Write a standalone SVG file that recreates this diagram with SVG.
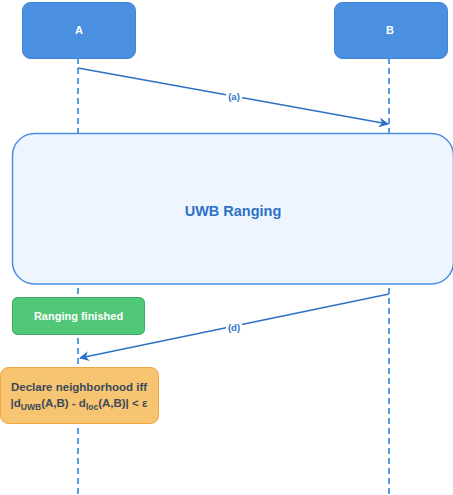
<svg xmlns="http://www.w3.org/2000/svg" width="453" height="495" viewBox="0 0 453 495">
<defs>
<style>
.life{stroke:#4a90e2;stroke-width:1.8;stroke-dasharray:6 4;fill:none}
.actor{fill:#4a8fe0;stroke:#3f83d6;stroke-width:1}
.msg{stroke:#2d72c6;stroke-width:1.5;fill:none}
.lbl{font-family:"Liberation Sans",Arial,sans-serif;font-weight:bold;font-size:9.5px;fill:#2d72c6;text-anchor:middle}
.wt{font-family:"Liberation Sans",Arial,sans-serif;font-weight:bold;font-size:11px;fill:#ffffff;text-anchor:middle}
.dk{font-family:"Liberation Sans",Arial,sans-serif;font-weight:bold;font-size:11.5px;fill:#3b4a5c;text-anchor:middle}
</style>
<marker id="ah" viewBox="0 0 10 10" refX="9" refY="5" markerWidth="10" markerHeight="10" markerUnits="userSpaceOnUse" orient="auto">
<path d="M0,0 L10,5 L0,10 L3,5 Z" fill="#2d72c6"/>
</marker>
</defs>
<g id="lifelines">
<line class="life" x1="78" y1="58" x2="78" y2="495"/>
<line class="life" x1="389" y1="58" x2="389" y2="495"/>
</g>
<g id="actor-A">
<rect class="actor" x="22.5" y="2.5" width="113" height="56" rx="8"/>
<text class="wt" x="79" y="34">A</text>
</g>
<g id="actor-B">
<rect class="actor" x="334.5" y="2.5" width="113" height="56" rx="8"/>
<text class="wt" x="390" y="34">B</text>
</g>
<g id="uwb">
<rect x="12.5" y="133.5" width="441" height="150.5" rx="22" fill="#eef5fe" stroke="#4a90e2" stroke-width="1.5"/>
<text x="233" y="216" font-family="'Liberation Sans',Arial,sans-serif" font-weight="bold" font-size="14.5" fill="#2d72c6" text-anchor="middle">UWB Ranging</text>
</g>
<g id="finished">
<rect x="12.5" y="297.5" width="132" height="37" rx="5" fill="#50c878" stroke="#3daa62" stroke-width="1"/>
<text class="wt" x="78.5" y="320">Ranging finished</text>
</g>
<g id="declare">
<rect x="0.5" y="367.5" width="158" height="56" rx="8" fill="#f7c471" stroke="#f0a444" stroke-width="1"/>
<text class="dk" x="79" y="391">Declare neighborhood iff</text>
<text class="dk" x="79" y="407">|d<tspan font-size="8.5" dy="3">UWB</tspan><tspan dy="-3">(A,B) - d</tspan><tspan font-size="8.5" dy="3">loc</tspan><tspan dy="-3">(A,B)| &lt; ε</tspan></text>
</g>
<g id="connectors">
<line class="msg" x1="78" y1="68" x2="388" y2="124" marker-end="url(#ah)"/>
<rect x="226" y="91" width="16" height="11" fill="#ffffff"/>
<text class="lbl" x="234" y="100">(a)</text>
<line class="msg" x1="389" y1="294" x2="80" y2="358" marker-end="url(#ah)"/>
<rect x="226" y="321" width="16" height="11" fill="#ffffff"/>
<text class="lbl" x="234" y="331">(d)</text>
</g>
</svg>
